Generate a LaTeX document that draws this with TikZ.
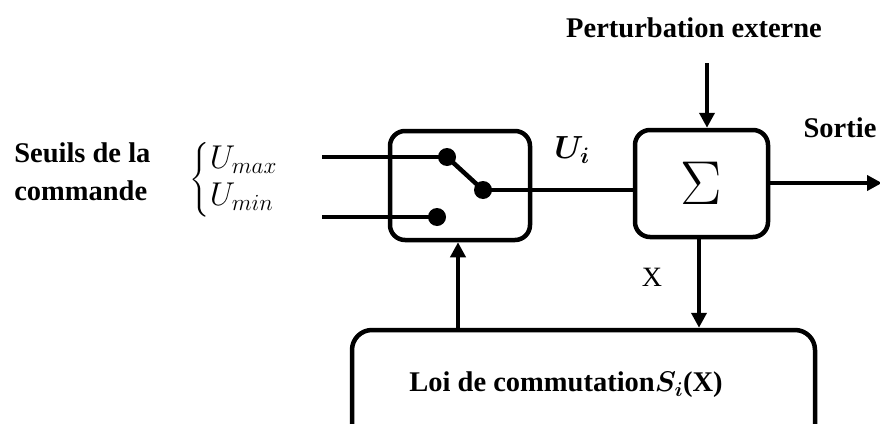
\RequirePackage{fix-cm}
\documentclass[tikz,border=0pt]{standalone}
\usepackage{amsmath}
\usepackage{fontspec}
\setmainfont{Liberation Serif}
\usetikzlibrary{arrows.meta}
\begin{document}
\begin{tikzpicture}[x=1pt,y=-1pt, line width=4.5pt,
 blk/.style={draw, rounded corners=15pt, inner sep=0pt},
 dot/.style={circle, fill, inner sep=0pt, minimum size=18pt},
 arr/.style={-{Triangle[length=15pt,width=15pt]}},
 lbl/.style={font=\fontsize{28.5}{38}\selectfont\bfseries, inner sep=0pt}]
\useasboundingbox (0,0) rectangle (880,423);
\clip (0,0) rectangle (880,423);
% blocks
\node[blk, minimum width=140pt, minimum height=109pt] (sw) at (460,185.5) {};
\node[blk, minimum width=133pt, minimum height=107pt, font=\fontsize{62}{62}\selectfont] (sum) at (701.5,183.5) {$\Sigma$};
\node[blk, rounded corners=20pt, minimum width=463pt, minimum height=130pt] (law) at (583.5,395) {};
% switch
\node[dot] (d1) at (447,157) {};
\node[dot] (d2) at (437,217) {};
\node[dot] (d3) at (483,190) {};
\coordinate (in1) at (322,157);
\coordinate (in2) at (322,217);
\draw (in1) -- (d1.center);
\draw (in2) -- (d2.center);
\draw (d1.center) -- (d3.center);
\draw (d3.center) -- (d3.center -| sum.west);
% arrows
\coordinate (pert) at (707,63);
\draw[arr] (pert) -- (pert |- sum.north);
\coordinate (out) at (882,183);
\draw[arr] (sum.east |- out) -- (out);
\coordinate (xs) at (699,0);
\draw[arr] (xs |- sum.south) -- (xs |- law.north);
\coordinate (fb) at (458,0);
\draw[arr] (fb |- law.north) -- (fb |- sw.south);
% labels
\node[lbl] (pt) at (694,28) {Perturbation externe};
\node[lbl] (so) at (840,128) {Sortie};
\node[lbl, align=left, anchor=west] (seuil) at (12,172) {Seuils de la\\commande};
\node[inner sep=0pt, font=\fontsize{33}{37}\selectfont] (lim) at (234,180) {$\left\{\begin{array}{@{}l@{}}U_{max}\\U_{min}\end{array}\right.$};
\node[inner sep=0pt, font=\fontsize{32}{36}\selectfont] (ui) at (572,150) {$\boldsymbol{U_i}$};
\node[inner sep=0pt, font=\fontsize{28}{30}\selectfont] (xl) at (652,277) {X};
\node[lbl] (lt) at (566,385) {Loi de commutation$\boldsymbol{S_i}$(X)};
\end{tikzpicture}
\end{document}
